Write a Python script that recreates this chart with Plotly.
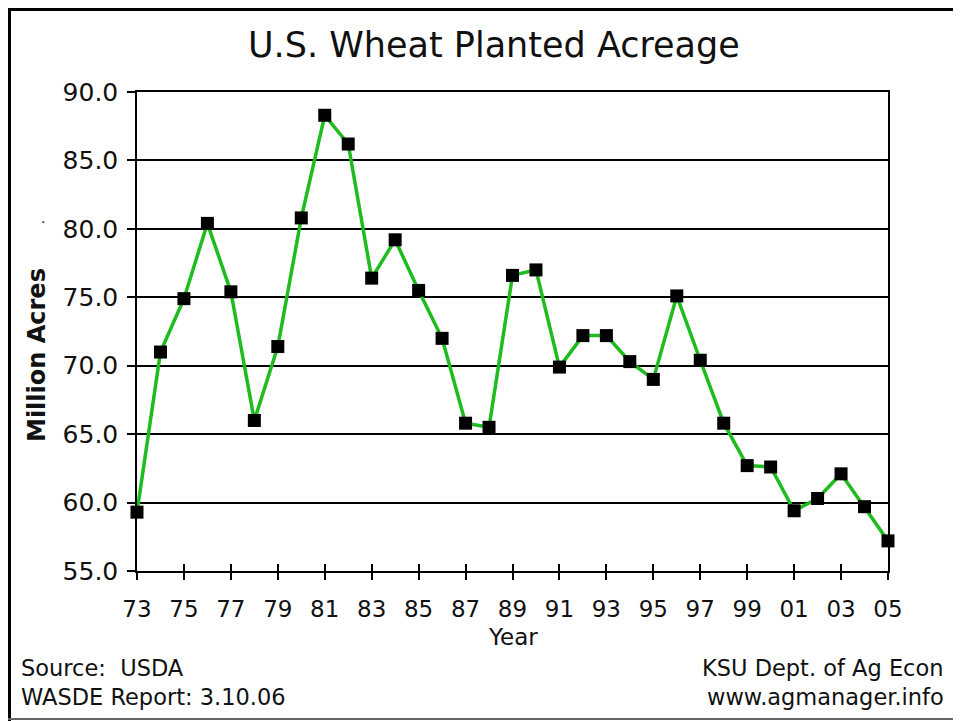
import plotly.graph_objects as go

years = list(range(1973, 2006))
acres = [59.3, 71.0, 74.9, 80.4, 75.4, 66.0, 71.4, 80.8, 88.3, 86.2,
         76.4, 79.2, 75.5, 72.0, 65.8, 65.5, 76.6, 77.0, 69.9, 72.2,
         72.2, 70.3, 69.0, 75.1, 70.4, 65.8, 62.7, 62.6, 59.4, 60.3,
         62.1, 59.7, 57.2]
tick_years = list(range(1973, 2006, 2))
tick_labels = ["73", "75", "77", "79", "81", "83", "85", "87", "89", "91",
               "93", "95", "97", "99", "01", "03", "05"]
y_ticks = [55, 60, 65, 70, 75, 80, 85, 90]

# The page body has an 8px default margin; work in page pixels and shift.
OFF = 8
W, H = 961 - OFF, 721 - OFF
L, R, T, B = 137 - OFF, 888 - OFF, 92 - OFF, 571 - OFF  # plot area (figure px)
PW, PH = R - L, B - T

def px(x):  # page pixel -> paper
    return (x - OFF - L) / PW

def py(y):
    return (B - (y - OFF)) / PH

FONT = "DejaVu Sans, Verdana, sans-serif"
TXT = "#111111"

fig = go.Figure()
fig.add_trace(go.Scatter(
    x=years, y=acres, mode="lines+markers",
    line=dict(color="#1ebc1e", width=3.5),
    marker=dict(symbol="square", size=13, color="black"),
    cliponaxis=False, showlegend=False,
))
# invisible trace for the inside half of crossing ticks
fig.add_trace(go.Scatter(x=[years[0], years[-1]], y=[None, None], xaxis="x2",
                         showlegend=False, hoverinfo="skip"))

fig.update_layout(
    width=W, height=H,
    margin=dict(l=L, r=W - R, t=T, b=H - B),
    paper_bgcolor="white", plot_bgcolor="white",
    font=dict(family=FONT, color=TXT),
    xaxis=dict(
        range=[1973, 2005], tickvals=tick_years, ticktext=tick_labels,
        ticks="outside", ticklen=7, tickwidth=1.5, tickcolor="black",
        showline=True, linecolor="black", linewidth=1.5, mirror=True,
        showgrid=False, zeroline=False,
        tickfont=dict(size=23, color=TXT), ticklabelstandoff=10,
    ),
    xaxis2=dict(
        range=[1973, 2005], tickvals=tick_years, overlaying="x", anchor="y",
        side="bottom", ticks="inside", ticklen=7, tickwidth=1.5, tickcolor="black",
        showticklabels=False, showgrid=False, zeroline=False, showline=False,
    ),
    yaxis=dict(
        range=[55, 90], tickvals=y_ticks, ticktext=[f"{v:.1f}" for v in y_ticks],
        ticks="outside", ticklen=8, tickwidth=1.5, tickcolor="black",
        showline=True, linecolor="black", linewidth=1.5, mirror=True,
        showgrid=True, gridcolor="black", gridwidth=1.5, zeroline=False,
        tickfont=dict(size=25, color=TXT), ticklabelstandoff=4,
    ),
    annotations=[
        dict(text="U.S. Wheat Planted Acreage", x=px(494), y=py(45), xref="paper", yref="paper",
             xanchor="center", yanchor="middle", showarrow=False,
             font=dict(size=35, color=TXT)),
        dict(text="<b>Million Acres</b>", x=px(37), y=py(355), xref="paper", yref="paper",
             xanchor="center", yanchor="middle", showarrow=False, textangle=-90,
             font=dict(size=24, color=TXT)),
        dict(text="·", x=px(43), y=py(222), xref="paper", yref="paper",
             xanchor="center", yanchor="middle", showarrow=False,
             font=dict(size=14, color=TXT)),
        dict(text="Year", x=px(513), y=py(637), xref="paper", yref="paper",
             xanchor="center", yanchor="middle", showarrow=False,
             font=dict(size=23, color=TXT)),
        dict(text="Source:\u00a0 USDA", x=px(19), y=py(668), xref="paper", yref="paper",
             xanchor="left", yanchor="middle", showarrow=False,
             font=dict(size=22.5, color=TXT)),
        dict(text="WASDE Report: 3.10.06", x=px(19), y=py(697), xref="paper", yref="paper",
             xanchor="left", yanchor="middle", showarrow=False,
             font=dict(size=22.5, color=TXT)),
        dict(text="KSU Dept. of Ag Econ", x=px(946), y=py(668), xref="paper", yref="paper",
             xanchor="right", yanchor="middle", showarrow=False,
             font=dict(size=22.5, color=TXT)),
        dict(text="www.agmanager.info", x=px(946), y=py(697), xref="paper", yref="paper",
             xanchor="right", yanchor="middle", showarrow=False,
             font=dict(size=22.5, color=TXT)),
    ],
    shapes=[
        dict(type="line", xref="paper", yref="paper", x0=px(OFF), x1=px(961), y0=py(OFF + 1.5), y1=py(OFF + 1.5),
             line=dict(color="black", width=3)),
        dict(type="line", xref="paper", yref="paper", x0=px(OFF + 1.5), x1=px(OFF + 1.5), y0=py(OFF), y1=py(721),
             line=dict(color="black", width=3)),
        dict(type="line", xref="paper", yref="paper", x0=px(OFF), x1=px(961), y0=py(719), y1=py(719),
             line=dict(color="#666666", width=2)),
        dict(type="line", xref="paper", yref="paper", x0=px(959), x1=px(959), y0=py(OFF), y1=py(721),
             line=dict(color="#666666", width=2)),
    ],
)

fig.write_html("out.html")
